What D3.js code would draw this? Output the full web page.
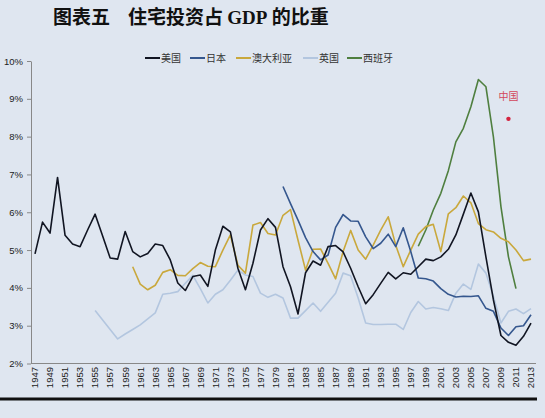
<!DOCTYPE html>
<html lang="zh">
<head>
  <meta charset="UTF-8">
  <title>住宅投资占 GDP 的比重</title>
  <script src="https://d3js.org/d3.v7.min.js"></script>
  <style>
    body { margin: 0; background: #dfe6f0; }
    svg { display: block; }
    .tick text { font-family: Arial, "Liberation Sans", sans-serif; fill: #222; }
  </style>
</head>
<body>
  <div id="chart"></div>
  <script>
    // years on the x axis and the odd-year tick labels
    const years = d3.range(1947, 2014);
    const tickYears = d3.range(1947, 2014, 2);

    // 美国 1947-2013
    const usStart = 1947;
    const usValues = [4.9, 5.74, 5.45, 6.92, 5.39, 5.16, 5.09, 5.53, 5.95, 5.37,
      4.79, 4.76, 5.49, 4.96, 4.82, 4.91, 5.16, 5.12, 4.74, 4.13,
      3.93, 4.3, 4.34, 4.04, 5.0, 5.63, 5.48, 4.52, 3.95, 4.65,
      5.53, 5.83, 5.6, 4.56, 4.03, 3.31, 4.4, 4.71, 4.6, 5.09,
      5.12, 4.95, 4.52, 4.03, 3.58, 3.82, 4.12, 4.41, 4.24, 4.4,
      4.36, 4.56, 4.76, 4.72, 4.82, 5.02, 5.4, 5.95, 6.51, 6.01,
      4.82, 3.68, 2.74, 2.56, 2.48, 2.72, 3.07];

    // 日本 1980-2013
    const japanStart = 1980;
    const japanValues = [6.68, 6.23, 5.79, 5.33, 4.96, 4.74, 4.87, 5.6, 5.94, 5.77,
      5.76, 5.35, 5.04, 5.18, 5.42, 5.09, 5.59, 4.96, 4.26, 4.24,
      4.18, 3.98, 3.83, 3.76, 3.78, 3.77, 3.79, 3.46, 3.38, 2.94,
      2.74, 2.97, 3.0, 3.29];

    // 澳大利亚 1960-2013
    const ausStart = 1960;
    const ausValues = [4.56, 4.1, 3.95, 4.07, 4.41, 4.48, 4.33, 4.32, 4.51, 4.67,
      4.57, 4.56, 5.0, 5.4, 4.6, 4.39, 5.66, 5.73, 5.44, 5.4,
      5.92, 6.07, 5.26, 4.47, 5.02, 5.03, 4.65, 4.24, 4.96, 5.52,
      5.0, 4.76, 5.13, 5.53, 5.88, 5.13, 4.56, 5.0, 5.42, 5.62,
      5.68, 4.96, 5.96, 6.12, 6.43, 6.25, 5.7, 5.54, 5.48, 5.31,
      5.22, 5.0, 4.72, 4.76];

    // 英国 1955-2013
    const ukStart = 1955;
    const ukValues = [3.4, 3.15, 2.9, 2.65, 2.78, 2.9, 3.02, 3.18, 3.34, 3.83,
      3.86, 3.9, 4.12, 4.33, 3.98, 3.6, 3.83, 3.95, 4.2, 4.47,
      4.34, 4.3, 3.86, 3.75, 3.83, 3.73, 3.2, 3.2, 3.4, 3.6,
      3.38, 3.62, 3.86, 4.39, 4.32, 3.73, 3.07, 3.03, 3.03, 3.04,
      3.04, 2.9, 3.35, 3.64, 3.44, 3.48, 3.45, 3.4, 3.86, 4.1,
      3.96, 4.63, 4.39, 3.77, 3.07, 3.38, 3.44, 3.32, 3.45];

    // 西班牙 1998-2011
    const spainStart = 1998;
    const spainValues = [5.1, 5.53, 6.06, 6.5, 7.1, 7.86, 8.22, 8.79, 9.51, 9.32,
      7.99, 6.15, 4.82, 3.98];

    // 中国 single point
    const chinaYear = 2010;
    const chinaValue = 8.47;

    const yTicks = [2, 3, 4, 5, 6, 7, 8, 9, 10];

    const W = 545, H = 418;
    const svg = d3.select("#chart").append("svg")
      .attr("width", W).attr("height", H);

    svg.append("rect").attr("width", W).attr("height", H).attr("fill", "#dfe6f0");

    const x = d3.scaleLinear().domain([1947, 2013]).range([35, 531]);
    const y = d3.scaleLinear().domain([2, 10]).range([363.5, 61]);

    // title
    svg.append("text")
      .attr("x", 53).attr("y", 24)
      .style("font-family", "'Noto Sans CJK SC', sans-serif")
      .style("font-weight", "bold")
      .style("font-size", "19px")
      .attr("fill", "#111")
      .text("图表五");
    const t2 = svg.append("text")
      .attr("x", 128).attr("y", 24)
      .style("font-family", "'Noto Sans CJK SC', sans-serif")
      .style("font-weight", "bold")
      .style("font-size", "19px")
      .attr("fill", "#111");
    t2.append("tspan").text("住宅投资占 ");
    t2.append("tspan").style("font-family", "'Liberation Serif', serif").text("GDP");
    t2.append("tspan").text(" 的比重");

    // y axis
    const yAxis = svg.append("g")
      .attr("transform", "translate(31,0)")
      .call(d3.axisLeft(y).tickValues(yTicks).tickSize(4).tickSizeOuter(0)
        .tickFormat(d => d + "%"));
    yAxis.select(".domain").attr("stroke", "#888");
    yAxis.selectAll(".tick line").attr("stroke", "#888");
    yAxis.selectAll(".tick text").style("font-size", "9.5px").attr("x", -8);

    // x axis
    svg.append("line")
      .attr("x1", 31).attr("x2", 536)
      .attr("y1", y(2)).attr("y2", y(2))
      .attr("stroke", "#888");

    svg.append("g").selectAll("text")
      .data(tickYears)
      .enter().append("text")
      .attr("transform", d => `translate(${x(d)},367) rotate(-90)`)
      .attr("text-anchor", "end")
      .attr("dy", "0.35em")
      .style("font-family", "Arial, 'Liberation Sans', sans-serif")
      .style("font-size", "9.5px")
      .attr("fill", "#222")
      .text(d => d);

    // bottom rule
    svg.append("line")
      .attr("x1", 0).attr("x2", 537)
      .attr("y1", 399).attr("y2", 399)
      .attr("stroke", "#111").attr("stroke-width", 3);

    const series = [
      { name: "美国", start: usStart, values: usValues, color: "#111522" },
      { name: "日本", start: japanStart, values: japanValues, color: "#35578e" },
      { name: "澳大利亚", start: ausStart, values: ausValues, color: "#c9a83c" },
      { name: "英国", start: ukStart, values: ukValues, color: "#b3c6df" },
      { name: "西班牙", start: spainStart, values: spainValues, color: "#4f7f3f" }
    ];

    const line = d3.line()
      .x(d => x(d.year))
      .y(d => y(d.value));

    // draw in back-to-front order
    const drawOrder = [3, 4, 2, 1, 0];
    drawOrder.forEach(i => {
      const s = series[i];
      const pts = s.values.map((v, k) => ({ year: s.start + k, value: v }));
      svg.append("path")
        .datum(pts)
        .attr("fill", "none")
        .attr("stroke", s.color)
        .attr("stroke-width", 1.6)
        .attr("stroke-linejoin", "round")
        .attr("d", line);
    });

    // China point
    svg.append("circle")
      .attr("cx", x(chinaYear)).attr("cy", y(chinaValue))
      .attr("r", 2.2).attr("fill", "#d4243f");
    svg.append("text")
      .attr("x", x(chinaYear)).attr("y", 100)
      .attr("text-anchor", "middle")
      .style("font-family", "'Noto Sans CJK SC', sans-serif")
      .style("font-size", "10px")
      .attr("fill", "#d2455a")
      .text("中国");

    // legend
    const legendX = [145, 190, 236, 303, 347];
    const legend = svg.append("g");
    series.forEach((s, i) => {
      legend.append("line")
        .attr("x1", legendX[i]).attr("x2", legendX[i] + 15)
        .attr("y1", 58).attr("y2", 58)
        .attr("stroke", s.color).attr("stroke-width", 2);
      legend.append("text")
        .attr("x", legendX[i] + 16).attr("y", 58)
        .attr("dy", "0.35em")
        .style("font-family", "'Noto Sans CJK SC', sans-serif")
        .style("font-size", "10px")
        .attr("fill", "#333")
        .text(s.name);
    });
  </script>
</body>
</html>
